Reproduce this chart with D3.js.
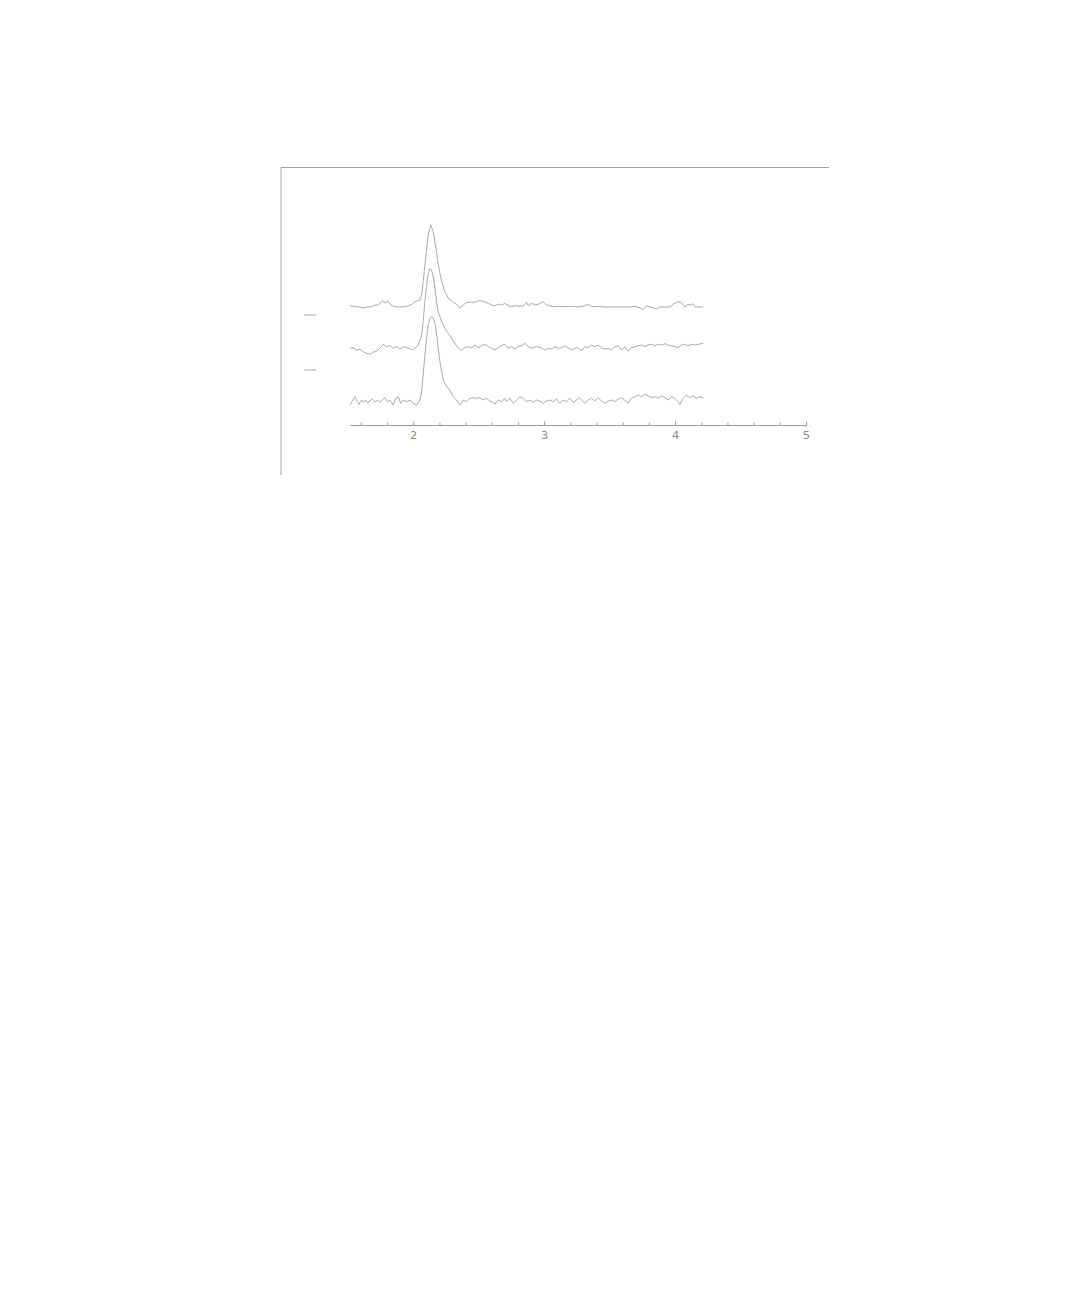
<!DOCTYPE html>
<html lang="en">
<head>
<meta charset="utf-8">
<title>Stacked chromatogram traces</title>
<script src="https://d3js.org/d3.v7.min.js"></script>
<style>
  body { margin: 0; background: #fff; }
  .tick text { font-family: "DejaVu Sans", sans-serif; }
</style>
</head>
<body>
<script>
// x = retention time, value = signal above each trace's own baseline
const traceTop = [
  [1.517,1.3],[1.555,0.3],[1.593,0],[1.616,-1],[1.646,0],[1.677,0],[1.692,1],[1.715,2],[1.730,2],
  [1.745,3.7],[1.768,6.3],[1.784,4],[1.807,6],[1.822,3],[1.845,1],[1.876,0],[1.921,0],[1.960,1],
  [1.990,2.7],[2.013,5.3],[2.051,7],[2.064,12],[2.076,25.3],[2.097,52],[2.115,72],[2.133,82],
  [2.153,75.3],[2.173,59],[2.191,42],[2.217,25.3],[2.242,15],[2.273,8],[2.305,4.7],[2.331,3],
  [2.356,-1],[2.382,2],[2.407,4.5],[2.445,5],[2.471,4.7],[2.496,6.3],[2.522,6],[2.547,5.3],
  [2.573,3.7],[2.599,2],[2.624,1.3],[2.649,2.7],[2.675,2],[2.700,3.7],[2.725,1.3],[2.751,0.3],
  [2.776,1.3],[2.802,0.7],[2.840,1],[2.866,4.7],[2.878,1.3],[2.904,3.7],[2.929,2],[2.954,2.7],
  [2.980,4.7],[2.992,5.3],[3.018,2],[3.043,1.3],[3.069,0.3],[3.107,0.7],[3.158,0.3],[3.209,0.7],
  [3.260,0],[3.310,1.3],[3.336,2.7],[3.361,0.3],[3.412,0.7],[3.463,0],[3.514,0],[3.565,0],
  [3.616,0],[3.667,0],[3.692,0.7],[3.731,-0.7],[3.756,-2.7],[3.782,1.3],[3.807,0.3],[3.832,-0.7],
  [3.858,-2],[3.883,0],[3.921,0],[3.960,0],[3.985,2.7],[4.011,4.7],[4.036,5.3],[4.061,2.7],
  [4.074,0],[4.099,2.7],[4.120,2],[4.137,3.3],[4.155,0],[4.176,0],[4.214,0]
];

const traceMid = [
  [1.517,-0.3],[1.542,0.3],[1.568,-2],[1.593,-1.3],[1.618,-3.7],[1.644,-5.3],[1.669,-6.3],[1.695,-4.3],
  [1.720,-3],[1.745,-0.3],[1.771,3.7],[1.796,1.3],[1.822,2.3],[1.847,-0.3],[1.873,1.3],[1.898,-1],
  [1.924,1.3],[1.949,0.3],[1.975,-1],[2.000,-2],[2.026,1.3],[2.038,3],[2.064,13],[2.076,26.3],
  [2.089,46.3],[2.102,63],[2.115,74.7],[2.127,79.7],[2.140,78],[2.153,71.3],[2.166,59.7],[2.178,46.3],
  [2.191,36.3],[2.217,26.3],[2.242,19.7],[2.267,14.7],[2.293,9.7],[2.318,4.7],[2.344,-0.3],[2.369,-2.5],
  [2.395,0.5],[2.420,1.3],[2.445,0.3],[2.471,3],[2.496,0.3],[2.522,2.3],[2.547,3.7],[2.573,1.3],
  [2.599,-0.3],[2.624,-2],[2.649,0.3],[2.675,2.3],[2.700,3.7],[2.725,-0.3],[2.751,1.3],[2.776,-1],
  [2.802,1.3],[2.827,2.3],[2.853,4.7],[2.878,1.3],[2.904,-0.3],[2.942,1.3],[2.980,0.3],[3.005,-2],
  [3.031,-0.3],[3.056,-1],[3.082,1.3],[3.107,-0.3],[3.133,0.3],[3.158,2.3],[3.183,0.3],[3.209,-2],
  [3.234,-0.3],[3.260,0.3],[3.285,-3],[3.310,1.3],[3.336,0.3],[3.361,3],[3.387,1.3],[3.412,3],
  [3.438,0.3],[3.463,-1],[3.488,-0.3],[3.514,-2],[3.540,1.3],[3.565,2.3],[3.591,-2],[3.616,1.3],
  [3.641,-3],[3.667,0.3],[3.692,1.3],[3.718,2.3],[3.743,3],[3.769,1.3],[3.794,3],[3.820,3.7],
  [3.845,2.3],[3.870,3.7],[3.896,3],[3.921,4.3],[3.947,3],[3.972,2.3],[3.998,1.3],[4.023,0.3],
  [4.049,3],[4.074,3.7],[4.099,2.3],[4.125,3.7],[4.150,3],[4.176,3.7],[4.214,4.7]
];

const traceLow = [
  [1.517,-5],[1.534,-1],[1.555,3.3],[1.573,-1.7],[1.586,-4.3],[1.606,0],[1.618,-2.3],[1.637,0],
  [1.652,-3.3],[1.669,-1],[1.687,1],[1.708,-1.7],[1.728,0],[1.745,-2.3],[1.763,0],[1.784,2.3],
  [1.804,-1.7],[1.822,0],[1.847,-5],[1.866,1.7],[1.885,3.3],[1.906,-3.3],[1.924,0],[1.949,-1.7],
  [1.975,0],[2.000,-3.3],[2.026,-5],[2.051,0],[2.064,8.3],[2.076,25],[2.089,45],[2.102,61.7],
  [2.115,75],[2.127,81.7],[2.140,83.3],[2.153,81.7],[2.166,76.7],[2.178,66.7],[2.191,51.7],[2.204,38.3],
  [2.217,28.3],[2.229,20],[2.255,13.3],[2.280,10],[2.305,3.3],[2.331,0],[2.356,-5],[2.382,0],
  [2.407,-1.7],[2.433,1.7],[2.458,2.3],[2.484,1.7],[2.509,2.3],[2.534,0],[2.560,1.7],[2.585,-1],
  [2.611,-2.7],[2.624,-4.3],[2.649,0],[2.675,-1.7],[2.700,1.7],[2.713,-1.7],[2.738,1.7],[2.764,-3.3],
  [2.789,0],[2.815,3.3],[2.840,1.7],[2.866,-1.7],[2.891,0],[2.916,-2.3],[2.942,0],[2.967,-1],
  [2.992,-3.3],[3.018,-1],[3.043,0],[3.069,-1.7],[3.095,1],[3.120,-3.3],[3.145,0],[3.171,-1.7],
  [3.196,1.7],[3.222,-2.3],[3.247,0],[3.272,2.3],[3.298,-1.7],[3.310,-3.3],[3.336,0],[3.361,1.7],
  [3.387,-1],[3.412,2.3],[3.438,-1],[3.463,-3.3],[3.488,-1],[3.514,0],[3.540,-1.7],[3.565,1],
  [3.591,2.3],[3.616,0],[3.641,-3.3],[3.667,1.7],[3.692,3.3],[3.718,5],[3.743,3.3],[3.769,5.7],
  [3.794,4.3],[3.820,2.3],[3.845,3.3],[3.870,1.7],[3.896,4.3],[3.921,2.3],[3.947,0],[3.972,3.3],
  [3.998,1.7],[4.023,-1.7],[4.036,-5],[4.061,1.7],[4.087,5],[4.112,2.3],[4.137,4.3],[4.163,1.7],
  [4.188,3.3],[4.214,2.3]
];

const traces = [traceTop, traceMid, traceLow];
const traceOffsets = [118, 77, 25];   // baseline of each trace on the signal scale
const majorTicks = [2, 3, 4, 5];
const minorTicks = [1.6, 1.8, 2.2, 2.4, 2.6, 2.8, 3.2, 3.4, 3.6, 3.8, 4.2, 4.4, 4.6, 4.8];
const sideMarks = [110, 55];          // short marks left of the traces

const width = 1080, height = 1296;
const ink = "#9a9a9a";

const svg = d3.select("body").append("svg")
    .attr("width", width)
    .attr("height", height);

// frame: top rule and left rule
svg.append("path")
    .attr("d", "M281,475 L281,167.5 L829,167.5")
    .attr("fill", "none")
    .attr("stroke", "#a0a0a0")
    .attr("stroke-width", 1);

const x = d3.scaleLinear().domain([1.517, 5]).range([350, 806]);
const y = d3.scaleLinear().domain([0, 260]).range([425, 165]);

// minor ticks
svg.append("g")
    .attr("transform", "translate(0,425)")
    .call(d3.axisBottom(x).tickValues(minorTicks).tickSize(-2.5).tickSizeOuter(0).tickFormat(""))
    .call(g => g.selectAll("line,path").attr("stroke", ink));

// major ticks with labels
svg.append("g")
    .attr("transform", "translate(0,425)")
    .call(d3.axisBottom(x).tickValues(majorTicks).tickSize(-3.5).tickSizeOuter(0).tickPadding(7).tickFormat(d3.format("d")))
    .call(g => g.selectAll("line,path").attr("stroke", ink))
    .call(g => g.selectAll("text").attr("fill", "#8a8a8a").attr("font-size", 10)
        .attr("transform", "scale(1.15,1)"));

// short marks on the left
svg.selectAll(".mark")
    .data(sideMarks)
    .join("line")
    .attr("class", "mark")
    .attr("x1", 304).attr("x2", 316)
    .attr("y1", d => y(d)).attr("y2", d => y(d))
    .attr("stroke", "#a8a8a8")
    .attr("stroke-width", 1);

const line = d3.line()
    .x(d => x(d[0]))
    .y(d => y(d[1]));

svg.selectAll(".trace")
    .data(traces)
    .join("path")
    .attr("class", "trace")
    .attr("d", (d, i) => line(d.map(p => [p[0], p[1] + traceOffsets[i]])))
    .attr("fill", "none")
    .attr("stroke", ink)
    .attr("stroke-width", 0.85)
    .attr("stroke-linejoin", "round");
</script>
</body>
</html>
